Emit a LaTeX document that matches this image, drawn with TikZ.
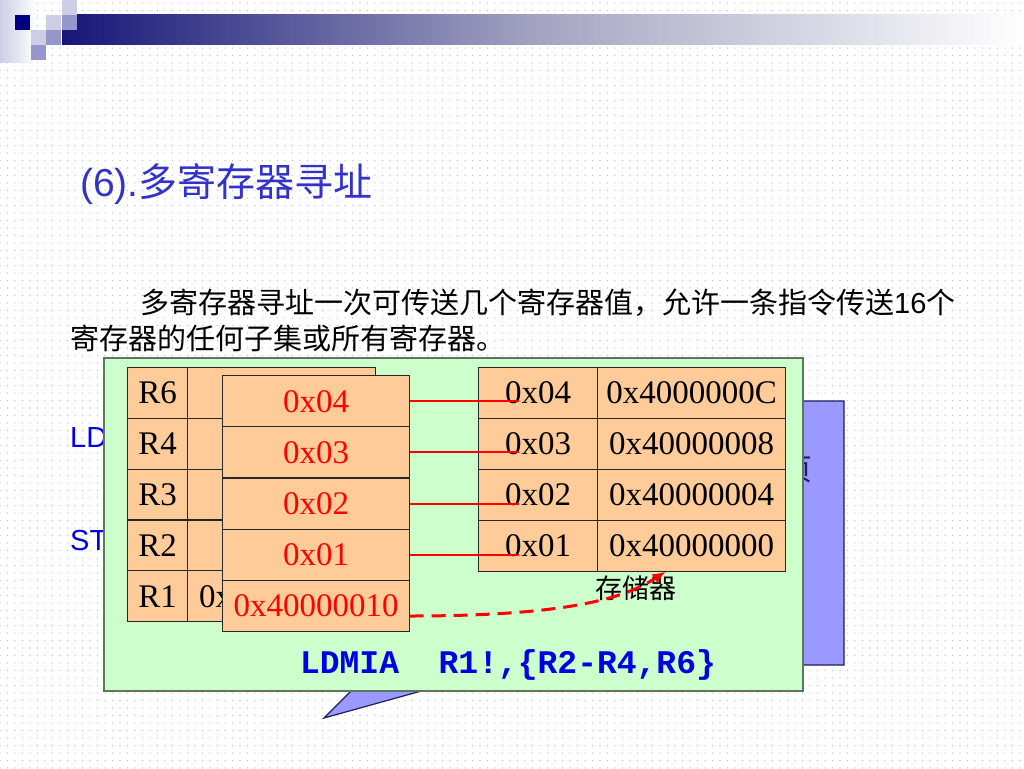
\documentclass[tikz,border=0pt]{standalone}
\usepackage{fontspec}
\setmainfont{Liberation Serif}
\setsansfont{Liberation Sans}
\setmonofont{Liberation Mono}
\newfontfamily\cjk{Noto Sans CJK SC}
\usetikzlibrary{positioning,calc,matrix,patterns.meta,arrows.meta}

\definecolor{cellfill}{RGB}{255,204,153}
\definecolor{panelfill}{RGB}{204,255,204}
\definecolor{paneledge}{RGB}{96,116,96}
\definecolor{calloutfill}{RGB}{153,153,255}
\definecolor{calloutedge}{RGB}{30,30,90}
\definecolor{titleblue}{RGB}{51,51,204}
\definecolor{codeblue}{RGB}{0,0,224}
\definecolor{barnavy}{RGB}{22,22,120}
\definecolor{barmid}{RGB}{165,165,195}
\definecolor{sqdark}{RGB}{0,0,128}
\definecolor{sqmid}{RGB}{150,150,205}
\definecolor{sqlight}{RGB}{205,205,230}
\newcommand{\pxfont}[1]{\fontsize{#1}{#1}\selectfont}

\begin{document}
\begin{tikzpicture}[x=1pt,y=-1pt,
  reg_table/.style={matrix of nodes,ampersand replacement=\&,nodes in empty cells,
    inner sep=0pt,outer sep=0pt,column sep=-1.2pt,row sep=-1.2pt,anchor=north west,
    nodes={draw=black!85,fill=cellfill,line width=1.2pt,inner sep=0pt,outer sep=0pt,
      minimum height=51pt,font=\pxfont{33},anchor=center}},
  title_text/.style={anchor=west,inner sep=0pt,text=titleblue,font=\pxfont{39}},
  body_text/.style={anchor=west,inner sep=0pt,font=\cjk\pxfont{29}},
  side_text/.style={anchor=west,inner sep=0pt,text=codeblue,font=\sffamily\pxfont{29}},
  code_text/.style={inner sep=0pt,text=codeblue,font=\ttfamily\bfseries\pxfont{33}},
  green_panel/.style={draw=paneledge,fill=panelfill,line width=1.5pt,anchor=north west,
    minimum width=699pt,minimum height=333pt,inner sep=0pt},
  ptr_line/.style={draw=red,line width=2pt,shorten >=19.5pt},
  dashed_ptr/.style={draw=red,line width=3pt,dash pattern=on 14pt off 8pt,
    -{Latex[length=13pt,width=11pt]}}
  ]
  \useasboundingbox (0,0) rectangle (1024,768);
  \fill[white] (0,0) rectangle (1024,768);
  \fill[pattern={Dots[distance=7.5pt,radius=0.6pt]},pattern color=black!28] (0,0) rectangle (1024,768);

  % corner squares and bar
  \shade[left color=sqlight,right color=white] (0,0) rectangle (36,62);
  \shade[left color=barnavy,right color=white,middle color=barmid] (62,15) rectangle (1024,45);
  \fill[sqdark]  (15,15) rectangle (30,30);
  \fill[sqlight] (62,0)  rectangle (77,15);
  \fill[sqlight] (46,15) rectangle (61,30);
  \fill[sqmid]   (62,15) rectangle (77,30);
  \fill[sqlight] (31,30) rectangle (46,45);
  \fill[sqmid]   (46,30) rectangle (61,45);
  \fill[sqmid]   (31,45) rectangle (46,60);

  \node[title_text] (title) at (80,184) {{\sffamily(6).}{\cjk 多寄存器寻址}};
  \node[body_text] (intro1) at (140,303) {多寄存器寻址一次可传送几个寄存器值，允许一条指令传送{\sffamily 16}个};
  \node[body_text] (intro2) at (70,338) {寄存器的任何子集或所有寄存器。};

  \node[side_text] (ldtxt) at (70,438) {LD};
  \node[side_text] (sttxt) at (70,541) {ST};

  % callout behind the panel
  \draw[fill=calloutfill,draw=calloutedge,line width=1.2pt]
    (300,401) -- (844,401) -- (844,665) -- (515,665) -- (324,718) -- (377,665) -- (300,665) -- cycle;
  \node[text=calloutedge,font=\cjk\pxfont{30},inner sep=0pt] (callouttxt) at (797,470) {页};

  \node[green_panel] (panel) at (103,357) {};

  \matrix[reg_table,column 1/.style={nodes={minimum width=60pt}},
    column 2/.style={nodes={minimum width=188pt}},nodes={minimum height=50.8pt}] (regs) at (127,367) {
    R6 \& \\
    R4 \& \\
    R3 \& \\
    R2 \& \\
    R1 \& 0x40000000 \\
  };
  \matrix[reg_table,nodes={minimum width=187pt,minimum height=51.2pt,text=red}] (stk) at (222,375) {
    0x04 \\
    0x03 \\
    0x02 \\
    0x01 \\
    0x40000010 \\
  };
  \matrix[reg_table,column 1/.style={nodes={minimum width=119pt}},
    column 2/.style={nodes={minimum width=188pt}}] (mem) at (478,367) {
    0x04 \& 0x4000000C \\
    0x03 \& 0x40000008 \\
    0x02 \& 0x40000004 \\
    0x01 \& 0x40000000 \\
  };

  \draw[ptr_line] (stk-1-1) -- (stk-1-1 -| mem-1-1);
  \draw[ptr_line] (stk-2-1) -- (stk-2-1 -| mem-2-1);
  \draw[ptr_line] (stk-3-1) -- (stk-3-1 -| mem-3-1);
  \draw[ptr_line] (stk-4-1) -- (stk-4-1 -| mem-4-1);

  \node[font=\cjk\pxfont{27},inner sep=0pt] (memlabel) at (636,588) {存储器};
  \draw[dashed_ptr] ([yshift=-10pt]stk-5-1.east) .. controls +(160,0) and +(-40,26) .. ([xshift=-26pt]mem-4-2.south);

  \node[code_text] (instr) at (508,665) {LDMIA\ \ R1!,\{R2-R4,R6\}};
\end{tikzpicture}
\end{document}
